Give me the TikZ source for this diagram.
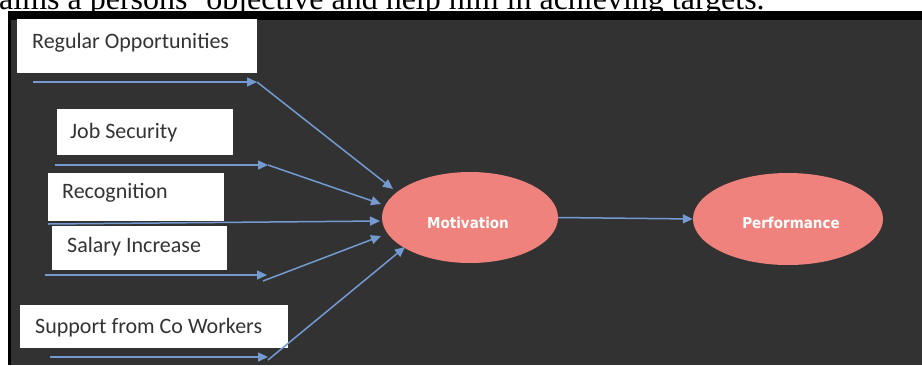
\documentclass[tikz,border=0pt]{standalone}
\usepackage{fontspec}
\setmainfont{Liberation Serif}
\newfontfamily\boxfont{Carlito}
\newfontfamily\ellfont{DejaVu Sans Condensed}
\usetikzlibrary{arrows.meta,shapes.geometric}
\definecolor{bgdark}{RGB}{50,50,50}
\definecolor{salmon}{RGB}{240,130,125}
\definecolor{arrowblue}{RGB}{115,155,210}
\begin{document}
\begin{tikzpicture}[x=1pt,y=-1pt,
  whitebox/.style={fill=white,draw=none},
  boxtext/.style={anchor=base west,inner sep=0pt,font=\boxfont\fontsize{22}{25}\selectfont,text=black!80},
  ellnode/.style={ellipse,fill=salmon,inner sep=0pt},
  elltext/.style={anchor=base,inner sep=0pt,font=\ellfont\bfseries\fontsize{15}{18}\selectfont,text=white},
  flow/.style={draw=arrowblue,line width=1.5pt,-{Triangle[length=10pt,width=9pt]}},
  captext/.style={anchor=base west,inner sep=0pt,font=\fontsize{32}{36}\selectfont}
]
\useasboundingbox (0,0) rectangle (922,365);
\clip (0,0) rectangle (922,365);
% caption line (cut at the top)
\node[captext] (caption) at (-1,9) {aims a persons' objective and help him in achieving targets.};
% frame
\fill[black] (8,11) rectangle (922,365);
\fill[bgdark] (11,20) rectangle (922,365);
% boxes
\node[whitebox,minimum width=240pt,minimum height=54pt,anchor=north west] (b1) at (17,19) {};
\node[whitebox,minimum width=176pt,minimum height=46pt,anchor=north west] (b2) at (57,109) {};
\node[whitebox,minimum width=176pt,minimum height=48pt,anchor=north west] (b3) at (48,173) {};
\node[whitebox,minimum width=175pt,minimum height=44pt,anchor=north west] (b4) at (52,226) {};
\node[whitebox,minimum width=268pt,minimum height=43pt,anchor=north west] (b5) at (20,305) {};
\node[boxtext] (t1) at (32,48) {Regular Opportunities};
\node[boxtext] (t2) at (70,138) {Job Security};
\node[boxtext] (t3) at (62,198) {Recognition};
\node[boxtext] (t4) at (67,252) {Salary Increase};
\node[boxtext] (t5) at (35,333) {Support from Co Workers};
% ellipses
\node[ellnode,minimum width=176pt,minimum height=91pt] (mot) at (470,217.5) {};
\node[ellnode,minimum width=190pt,minimum height=92pt] (perf) at (788,219) {};
\node[elltext] (mott) at (468,228) {Motivation};
\node[elltext] (perft) at (791,228) {Performance};
% connector coordinates
\coordinate (h1s) at (33,82);   \coordinate (h1e) at (257,82);
\coordinate (d1e) at (393,189);
\coordinate (h2s) at (55,165);  \coordinate (h2e) at (268,165);
\coordinate (d2e) at (381,204);
\coordinate (r3s) at (48,224);  \coordinate (r3e) at (380,221);
\coordinate (h4s) at (45,275);  \coordinate (h4e) at (267,275);
\coordinate (d4s) at (263,281); \coordinate (d4e) at (381,236);
\coordinate (h5s) at (50,357);  \coordinate (h5e) at (268,357);
\coordinate (d5s) at (268,360); \coordinate (d5e) at (405,247);
% connectors
\draw[flow] (h1s) -- (h1e);
\draw[flow] (h1e) -- (d1e);
\draw[flow] (h2s) -- (h2e);
\draw[flow] (h2e) -- (d2e);
\draw[flow] (r3s) -- (r3e);
\draw[flow] (h4s) -- (h4e);
\draw[flow] (d4s) -- (d4e);
\draw[flow] (h5s) -- (h5e);
\draw[flow] (d5s) -- (d5e);
\draw[flow] (mot.east) -- (perf.west);
\end{tikzpicture}
\end{document}
